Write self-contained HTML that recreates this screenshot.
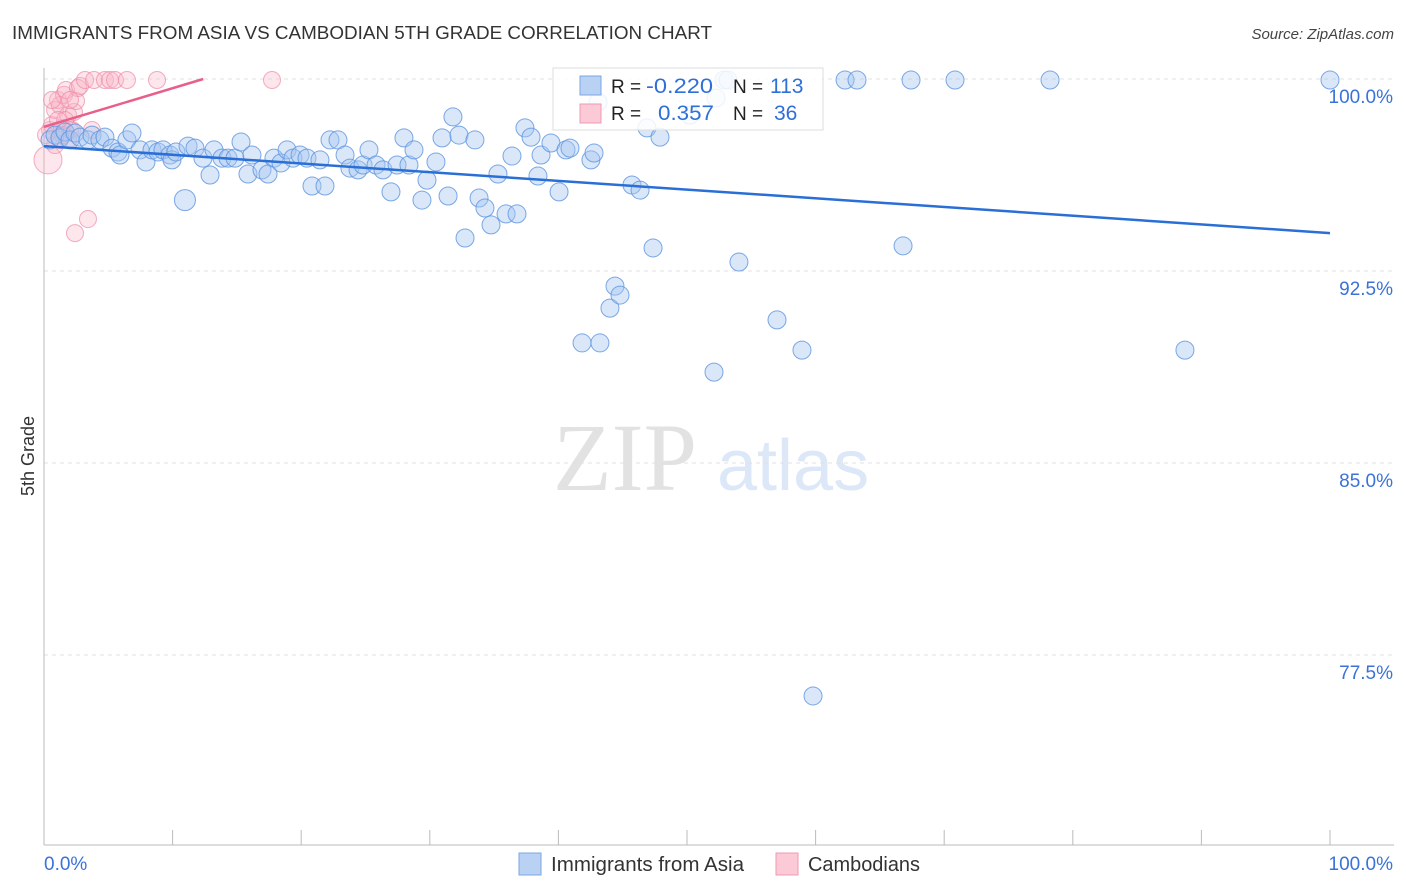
<!DOCTYPE html>
<html><head><meta charset="utf-8"><style>
body{margin:0;background:#fff;font-family:"Liberation Sans",sans-serif;}
#wrap{position:relative;width:1406px;height:892px;overflow:hidden;}
</style></head><body>
<div id="wrap">
<svg id="chart" width="1406" height="892" xmlns="http://www.w3.org/2000/svg">
<text x="12" y="39" font-size="18" fill="#333" textLength="700" lengthAdjust="spacingAndGlyphs">IMMIGRANTS FROM ASIA VS CAMBODIAN 5TH GRADE CORRELATION CHART</text>
<text x="1394" y="39" font-size="15" fill="#444" font-style="italic" text-anchor="end">Source: ZipAtlas.com</text>
<text transform="translate(34,456) rotate(-90)" font-size="18" fill="#333" text-anchor="middle">5th Grade</text>
<g>
<text x="553" y="490" font-family="Liberation Serif,serif" font-size="96" fill="#e2e2e2">ZIP</text>
<text x="717" y="490" font-size="72" fill="#dce8f8">atlas</text>
</g>
<g id="grid"></g><g id="axes"></g><g id="marks"></g>
<g>
<rect x="553" y="68" width="270" height="62" fill="#fff" fill-opacity="0.85" stroke="#ddd"/>
<rect x="580" y="76" width="21" height="19" fill="#b9d2f4" stroke="#7aa7e6"/>
<rect x="580" y="104" width="21" height="19" fill="#fcc9d6" stroke="#f09ab2"/>
<text x="611" y="93" font-size="19" fill="#222">R =</text>
<text x="646" y="93" font-size="21" fill="#2f6fd8" textLength="67" lengthAdjust="spacingAndGlyphs">-0.220</text>
<text x="733" y="93" font-size="19" fill="#222">N =</text>
<text x="770" y="93" font-size="21" fill="#2f6fd8">113</text>
<text x="611" y="120" font-size="19" fill="#222">R =</text>
<text x="658" y="120" font-size="21" fill="#2f6fd8" textLength="56" lengthAdjust="spacingAndGlyphs">0.357</text>
<text x="733" y="120" font-size="19" fill="#222">N =</text>
<text x="774" y="120" font-size="21" fill="#2f6fd8">36</text>
</g>
<g>
<rect x="519" y="853" width="22" height="22" fill="#b9d2f4" stroke="#7aa7e6"/>
<text x="551" y="871" font-size="20" fill="#333" textLength="193" lengthAdjust="spacingAndGlyphs">Immigrants from Asia</text>
<rect x="776" y="853" width="22" height="22" fill="#fcc9d6" stroke="#f09ab2"/>
<text x="808" y="871" font-size="20" fill="#333" textLength="112" lengthAdjust="spacingAndGlyphs">Cambodians</text>
</g>
</svg>
</div>
<script>
const yTicks=[100,92.5,85,77.5];
const yTickLabels=["100.0%","92.5%","85.0%","77.5%"];
const xEndLabels=["0.0%","100.0%"];
const asiaX=[0.47,0.86,1.24,1.63,2.02,2.41,2.80,3.42,3.73,4.35,4.74,5.29,5.75,5.91,6.45,6.84,7.47,7.93,8.40,8.86,9.25,9.80,9.95,10.26,10.96,11.20,11.74,12.36,12.91,13.22,13.84,14.31,14.85,15.32,15.86,16.17,16.95,17.42,17.88,18.43,18.90,19.36,19.91,20.45,20.84,21.46,21.85,22.24,22.86,23.41,23.79,24.42,24.81,25.27,25.82,26.36,26.98,27.45,27.99,28.38,28.77,29.78,29.39,30.48,30.95,31.42,31.80,32.27,32.74,33.51,33.83,34.29,34.76,35.30,35.93,36.39,36.78,37.40,37.87,38.65,38.41,39.42,40.05,40.59,40.90,42.53,42.77,43.08,44.01,44.40,44.79,41.84,43.23,45.72,46.35,46.89,47.36,47.90,50.23,52.26,52.88,53.19,54.04,52.10,57.00,58.94,59.80,62.29,63.22,66.80,67.42,70.84,78.23,88.72,100];
const asiaY=[97.62,97.81,97.70,97.93,97.62,97.89,97.73,97.62,97.81,97.62,97.73,97.30,97.15,97.03,97.62,97.89,97.23,96.76,97.23,97.15,97.23,97.03,96.84,97.15,95.27,97.38,97.30,96.91,96.25,97.23,96.91,96.91,96.91,97.54,96.29,97.03,96.45,96.29,96.91,96.72,97.23,96.91,97.03,96.91,95.82,96.84,95.82,97.62,97.62,97.03,96.52,96.45,96.64,97.23,96.64,96.45,95.59,96.64,97.70,96.64,97.23,96.05,95.27,96.76,97.70,95.43,98.52,97.81,93.79,97.62,95.35,94.96,94.30,96.29,94.73,96.99,94.73,98.09,97.73,97.03,96.21,97.50,95.59,97.23,97.30,96.84,97.11,99.10,91.05,91.91,91.56,89.69,89.69,95.86,95.66,98.09,93.40,97.73,98.59,99.26,99.96,99.96,92.85,88.55,90.59,89.41,75.90,99.96,99.96,93.48,99.96,99.96,99.96,89.41,99.96];
const cambX=[0.31,0.47,0.62,0.86,1.09,1.24,1.40,1.56,1.71,1.87,2.02,2.18,2.33,2.49,2.64,2.80,3.19,3.73,3.89,4.74,5.13,5.52,6.45,8.79,17.73,2.41,3.42,0.86,1.24,1.63,0.62,1.09,1.87,2.02,1.48,0.16];
const cambY=[96.84,98.01,98.20,98.79,99.18,98.98,98.09,99.38,99.57,98.59,98.01,98.01,98.71,99.14,99.65,99.73,99.96,98.01,99.96,99.96,99.96,99.96,99.96,99.96,99.96,93.98,94.53,97.42,97.62,98.40,99.18,98.40,97.62,99.18,97.81,97.81];
const asiaTrend=[97.38,93.98];
const cambTrend=[98.13,0.151];
const NS="http://www.w3.org/2000/svg";
const X=v=>44+v*12.86, Y=v=>79+(100-v)*25.6;
function mk(tag,attrs,parent){const e=document.createElementNS(NS,tag);for(const k in attrs)e.setAttribute(k,attrs[k]);parent.appendChild(e);return e;}
const grid=document.getElementById('grid'),axes=document.getElementById('axes'),marks=document.getElementById('marks');
yTicks.forEach((t,i)=>{
 const l=mk('line',{x1:44,x2:1394,y1:Y(t),y2:Y(t),stroke:'#e0e0e0','stroke-dasharray':'4,4'},grid);
 
 
 const tx=mk('text',{x:1393,y:Y(t)+24,'font-size':19,fill:'#3a72d8','text-anchor':'end'},axes);
 tx.textContent=yTickLabels[i];
 
 
});
const ax=mk('line',{x1:44,x2:1394,y1:845,y2:845,stroke:'#bbb'},axes);


const ay=mk('line',{x1:44,x2:44,y1:68,y2:845,stroke:'#bbb'},axes);


for(let k=0;k<=10;k++){
 const t=mk('line',{x1:X(k*10),x2:X(k*10),y1:830,y2:845,stroke:'#bbb'},axes);
 
 
}
const xl0=mk('text',{x:44,y:870,'font-size':19,fill:'#3a72d8'},axes);xl0.textContent=xEndLabels[0];


const xl1=mk('text',{x:1393,y:870,'font-size':19,fill:'#3a72d8','text-anchor':'end'},axes);xl1.textContent=xEndLabels[1];


cambX.forEach((v,i)=>{
 const c=mk('circle',{cx:X(v),cy:Y(cambY[i]),r:i===0?14:8.5,fill:'#f9b6c9','fill-opacity':0.35,stroke:'#ee8aa8','stroke-opacity':0.7,'stroke-width':1},marks);
 
 
});
asiaX.forEach((v,i)=>{
 const c=mk('circle',{cx:X(v),cy:Y(asiaY[i]),r:v===10.96?10.5:9,fill:'#a8c6f0','fill-opacity':0.42,stroke:'#5b93e0','stroke-opacity':0.8,'stroke-width':1},marks);
 
 
});
const bl=mk('line',{x1:X(0),y1:Y(asiaTrend[0]),x2:X(100),y2:Y(asiaTrend[1]),stroke:'#2a6fd6','stroke-width':2.5},marks);


const xEnd=(100-cambTrend[0])/cambTrend[1];
const pl=mk('line',{x1:X(0),y1:Y(cambTrend[0]),x2:X(xEnd),y2:Y(100),stroke:'#e8608a','stroke-width':2.5},marks);


</script>
</body></html>
